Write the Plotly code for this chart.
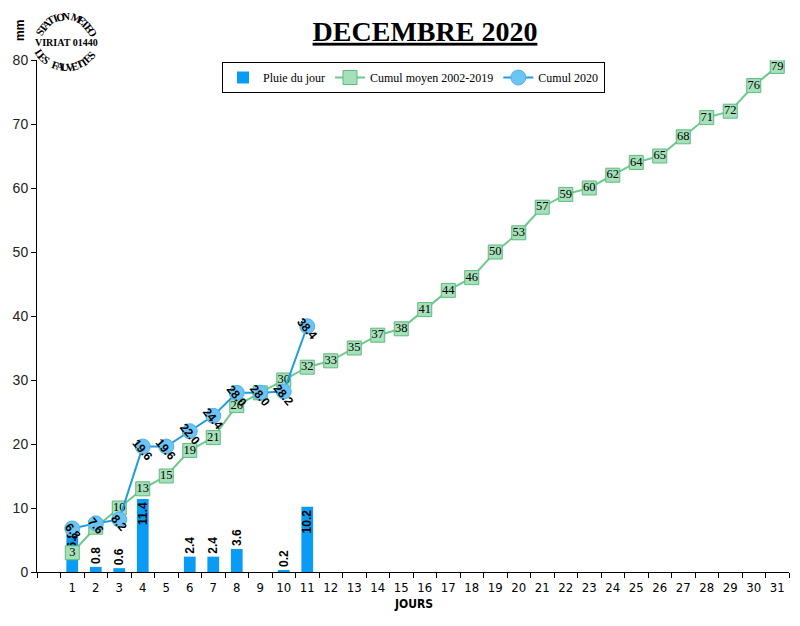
import math
import plotly.graph_objects as go

# ---------------- data ----------------
days_all = [str(d) for d in range(1, 32)]
rain_days = [str(d) for d in range(1, 12)]
rain_daily = [6.8, 0.8, 0.6, 11.4, 0, 2.4, 2.4, 3.6, 0, 0.2, 10.2]
cumul_2020 = [6.8, 7.6, 8.2, 19.6, 19.6, 22.0, 24.4, 28.0, 28.0, 28.2, 38.4]
cumul_moyen = [3, 7, 10, 13, 15, 19, 21, 26, 28, 30, 32, 33, 35, 37, 38, 41,
               44, 46, 50, 53, 57, 59, 60, 62, 64, 65, 68, 71, 72, 76, 79]
categories = [" "] + days_all
y_ticks = list(range(0, 81, 10))

title_text = "DECEMBRE 2020"

# ---------------- geometry (page has an 8px body margin) ----------------
OFF = 8
W, H = 800 - OFF, 626 - OFF
PL, PR, PT, PB = 37, 789, 60, 572          # plot area in window pixels
L, T = PL - OFF, PT - OFF
R, B = W - (PR - OFF), H - (PB - OFF)
PW, PH = PR - PL, PB - PT


def px(xp):
    return (xp - PL) / PW


def py(yp):
    return (PB - yp) / PH


SANS = "Liberation Sans, Arial, sans-serif"
NARROW = "Liberation Sans Narrow, Arial Narrow, DejaVu Sans Condensed, Liberation Sans, Arial, sans-serif"
SERIF = "Liberation Serif, Times New Roman, serif"

fig = go.Figure()

# bar labels
bar_text = [("%.1f" % v) if v > 0 else "" for v in rain_daily]
bar_pos = ["inside" if v >= 6 else "outside" for v in rain_daily]

fig.add_trace(go.Bar(
    x=rain_days, y=rain_daily, name="Pluie du jour",
    marker=dict(color="#0A9BF5", line=dict(width=0)),
    width=0.5,
    text=bar_text, textposition=bar_pos, textangle=-90,
    insidetextanchor="end", constraintext="none",
    textfont=dict(family=SANS, size=12, color="black", weight="bold"),
    cliponaxis=False,
))

fig.add_trace(go.Scatter(
    x=days_all, y=cumul_moyen, name="Cumul moyen 2002-2019",
    mode="lines+markers",
    line=dict(color="#6CCB8C", width=2),
    marker=dict(symbol="square", size=14, color="#A6E0BA",
                line=dict(color="#5DBB7D", width=1)),
))
fig.add_trace(go.Scatter(
    x=days_all, y=cumul_moyen, mode="text", showlegend=False,
    text=[str(v) for v in cumul_moyen], textposition="middle center",
    textfont=dict(family=SERIF, size=12.5, color="black"),
    hoverinfo="skip",
))

fig.add_trace(go.Scatter(
    x=rain_days, y=cumul_2020, name="Cumul 2020",
    mode="lines+markers",
    line=dict(color="#1E9AE6", width=2),
    marker=dict(symbol="circle", size=15, color="#6CC4F2",
                line=dict(color="#4DB3EC", width=1)),
))

annotations = []
for d, v in zip(rain_days, cumul_2020):
    annotations.append(dict(
        x=d, y=v, xref="x", yref="y", text="%.1f" % v, showarrow=False,
        textangle=50, yshift=-3,
        font=dict(family=SANS, size=12, color="black", weight="bold"),
    ))

# x-axis title
annotations.append(dict(x=px(413), y=py(604), xref="paper", yref="paper",
                        xanchor="center", yanchor="middle",
                        text="<b>JOURS</b>", showarrow=False,
                        font=dict(family=NARROW, size=12, color="black")))
# unit label
annotations.append(dict(x=px(20), y=py(31), xref="paper", yref="paper",
                        xanchor="center", yanchor="middle",
                        text="<b>mm</b>", showarrow=False, textangle=-90,
                        font=dict(family=SANS, size=12, color="black")))

# logo: circular stamp text
top_txt = "STATION METEO"
cx, cy, r = 66, 45, 29
n = len(top_txt)
for i, ch in enumerate(top_txt):
    th = -64 + i * 128 / (n - 1)
    t = math.radians(th)
    annotations.append(dict(
        x=px(cx + r * math.sin(t)), y=py(cy - r * math.cos(t)),
        xanchor="center", yanchor="middle",
        xref="paper", yref="paper", text="<b>%s</b>" % ch, showarrow=False,
        textangle=th, font=dict(family=SERIF, size=11, color="black")))
bot_txt = "LES FAUVETTES"
cx, cy, r = 66, 35, 32
n = len(bot_txt)
for i, ch in enumerate(bot_txt):
    th = -56 + i * 108 / (n - 1)
    t = math.radians(th)
    annotations.append(dict(
        x=px(cx + r * math.sin(t)), y=py(cy + r * math.cos(t)),
        xanchor="center", yanchor="middle",
        xref="paper", yref="paper", text="<b>%s</b>" % ch, showarrow=False,
        textangle=-th, font=dict(family=SERIF, size=11, color="black")))
annotations.append(dict(x=px(66), y=py(42), xref="paper", yref="paper",
                        xanchor="center", yanchor="middle",
                        text="<b>VIRIAT 01440</b>", showarrow=False,
                        font=dict(family=SERIF, size=10, color="black")))

fig.update_layout(
    width=W, height=H,
    margin=dict(l=L, r=R, t=T, b=B, autoexpand=False),
    paper_bgcolor="white", plot_bgcolor="white",
    title=dict(text="<b><u>%s</u></b>" % title_text, x=px(425), xref="paper",
               xanchor="center", y=1 - (31 - OFF) / H, yanchor="middle",
               automargin=False,
               font=dict(family=SERIF, size=28, color="black")),
    showlegend=True,
    legend=dict(orientation="h", x=px(222), y=py(62), xanchor="left",
                yanchor="top", bordercolor="black", borderwidth=1,
                bgcolor="white",
                font=dict(family=SERIF, size=12, color="black")),
    xaxis=dict(type="category", categoryorder="array", categoryarray=categories,
               range=[-0.5, len(categories) - 0.5], automargin=False,
               showline=True, linecolor="black", linewidth=1,
               ticks="outside", ticklen=5, tickcolor="black", tickangle=0,
               tickson="boundaries", showgrid=False, ticklabelstandoff=3,
               tickfont=dict(family=NARROW, size=13, color="black")),
    yaxis=dict(range=[0, 80], tickvals=y_ticks, showline=True, automargin=False,
               linecolor="black", linewidth=1, ticks="outside", ticklen=5,
               tickcolor="black", showgrid=False, zeroline=False,
               tickfont=dict(family=SANS, size=14, color="#222")),
    annotations=annotations,
    bargap=0.5,
)

fig.write_html("out.html")
